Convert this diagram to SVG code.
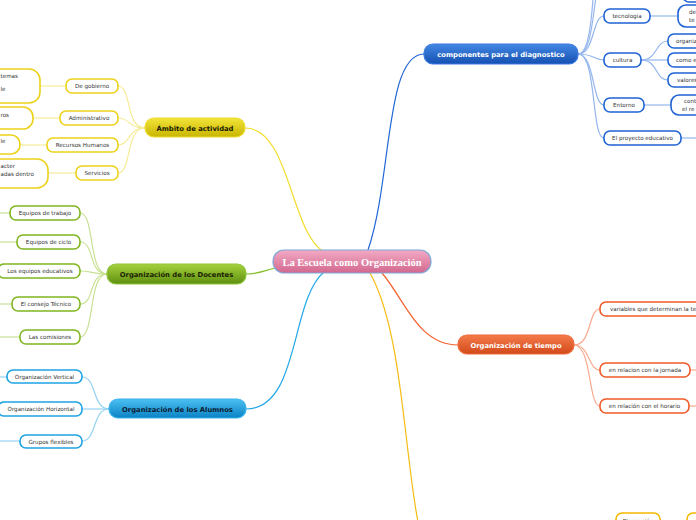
<svg xmlns="http://www.w3.org/2000/svg" width="696" height="520" viewBox="0 0 696 520">
<defs>
<linearGradient id="gPink" x1="0" y1="0" x2="0" y2="1"><stop offset="0" stop-color="#f3aac4"/><stop offset="1" stop-color="#d2688f"/></linearGradient>
<linearGradient id="gYel" x1="0" y1="0" x2="0" y2="1"><stop offset="0" stop-color="#f2e43a"/><stop offset="1" stop-color="#c9b500"/></linearGradient>
<linearGradient id="gGrn" x1="0" y1="0" x2="0" y2="1"><stop offset="0" stop-color="#a6d23e"/><stop offset="1" stop-color="#5e8f0f"/></linearGradient>
<linearGradient id="gCya" x1="0" y1="0" x2="0" y2="1"><stop offset="0" stop-color="#4cc0f2"/><stop offset="1" stop-color="#0a82c4"/></linearGradient>
<linearGradient id="gBlu" x1="0" y1="0" x2="0" y2="1"><stop offset="0" stop-color="#4388e4"/><stop offset="1" stop-color="#1550b2"/></linearGradient>
<linearGradient id="gOra" x1="0" y1="0" x2="0" y2="1"><stop offset="0" stop-color="#f47a4a"/><stop offset="1" stop-color="#d24a1a"/></linearGradient>
</defs>
<style>
.c{fill:none;stroke-width:1.2}
.main{stroke-width:1.2}
.mt{font-family:"DejaVu Sans",sans-serif;font-size:6.8px;font-weight:bold;text-anchor:middle}
.st{font-family:"DejaVu Sans",sans-serif;font-size:5.6px;fill:#333;text-anchor:middle}
.sl{font-family:"DejaVu Sans",sans-serif;font-size:5.6px;fill:#333}
.sub{fill:#fff;stroke-width:1.6}
.y{stroke:#ecd21a}.yl{stroke:#f6ec98}
.g{stroke:#7fb520}.gl{stroke:#c8e294}
.cy{stroke:#1ea2e4}.cyl{stroke:#94d2f2}
.b{stroke:#1f63d4}.bl{stroke:#94b6ec}
.o{stroke:#f05a28}.ol{stroke:#f8aa8e}
.yo{stroke:#f5b800}
</style>

<g id="connectors">
<path class="c" stroke="#f2dc2a" stroke-width="1.6" d="M245,128 C290,128 290,232 324,252"/>
<path class="c" stroke="#86c02a" stroke-width="1.6" d="M246,274 C260,274 265,270 276,268"/>
<path class="c" stroke="#22a8e6" stroke-width="1.6" d="M324,272 C290,300 300,409 246,409"/>
<path class="c" stroke="#2066d6" stroke-width="1.6" d="M368,250 C392,180 385,54 424,54"/>
<path class="c" stroke="#f2602c" stroke-width="1.6" d="M382,273 C405,300 418,345 458,345"/>
<path class="c" stroke="#f6bc10" stroke-width="1.6" d="M370,273 C402,330 404,450 418,522"/>
<path class="c yl" d="M145,128 C125,128 132,86 118,86"/>
<path class="c yl" d="M145,128 C128,128 130,118 118,118"/>
<path class="c yl" d="M145,128 C128,128 130,145 118,145"/>
<path class="c yl" d="M145,128 C125,128 132,173 118,173"/>
<path class="c yl" d="M66,86 L40,86"/>
<path class="c yl" d="M60,118 L33,118"/>
<path class="c yl" d="M47,145 L20,145"/>
<path class="c yl" d="M76,173 L48,173"/>
<path class="c gl" d="M107,274 C88,274 95,213 80,213"/>
<path class="c gl" d="M107,274 C88,274 95,242 80,242"/>
<path class="c gl" d="M107,274 C92,274 92,271 80,271"/>
<path class="c gl" d="M107,274 C88,274 95,304 80,304"/>
<path class="c gl" d="M107,274 C88,274 95,337 80,337"/>
<path class="c gl" d="M10,213 L0,213"/>
<path class="c gl" d="M17,242 L0,242"/>
<path class="c gl" d="M12,304 L0,304"/>
<path class="c gl" d="M20,337 L0,337"/>
<path class="c cyl" d="M109,409 C92,409 97,377 82,377"/>
<path class="c cyl" d="M109,409 L82,409"/>
<path class="c cyl" d="M109,409 C92,409 97,441 82,441"/>
<path class="c cyl" d="M7,377 L0,377"/>
<path class="c cyl" d="M20,441 L0,441"/>
<path class="c bl" d="M578,54 C598,54 590,-60 604,-60"/>
<path class="c bl" d="M578,54 C597,54 591,-20 604,-20"/>
<path class="c bl" d="M578,54 C595,54 592,16 604,16"/>
<path class="c bl" d="M578,54 C594,54 594,60 604,60"/>
<path class="c bl" d="M578,54 C595,54 592,105 604,105"/>
<path class="c bl" d="M578,54 C597,54 591,138 604,138"/>
<path class="c bl" d="M650,16 L678,16"/>
<path class="c bl" d="M641,60 C658,60 655,41 668,41"/>
<path class="c bl" d="M641,60 L668,60"/>
<path class="c bl" d="M641,60 C658,60 655,80 668,80"/>
<path class="c bl" d="M644,105 L671,105"/>
<path class="c bl" d="M681,138 L696,138"/>
<path class="c ol" d="M574,345 C592,345 588,309 600,309"/>
<path class="c ol" d="M574,345 C590,345 588,370 600,370"/>
<path class="c ol" d="M574,345 C592,345 588,406 600,406"/>
<path class="c ol" d="M690,370 L696,370"/>
<path class="c ol" d="M689,406 L696,406"/>
</g>

<g id="center">
<rect x="273" y="250" width="158" height="23" rx="11" fill="url(#gPink)" stroke="#7fa8d8" stroke-width="1.2"/>
<text x="352" y="265.5" font-family="'Liberation Serif',serif" font-size="10.5" font-weight="bold" fill="#fff" text-anchor="middle">La Escuela como Organización</text>
</g>

<g id="ambito">
<rect x="145" y="118" width="100" height="19" rx="9" fill="url(#gYel)" stroke="#eedc30" class="main"/>
<text class="mt" x="195" y="130.5" fill="#1a1a00">Ámbito de actividad</text>
</g>
<g id="degobierno"><rect class="sub y" x="66" y="79" width="52" height="14" rx="6"/><text class="st" x="92" y="88">De gobierno</text></g>
<g id="administrativo"><rect class="sub y" x="60" y="111" width="58" height="14" rx="6"/><text class="st" x="89" y="120">Administrativo</text></g>
<g id="recursos"><rect class="sub y" x="47" y="138" width="71" height="14" rx="6"/><text class="st" x="82.5" y="147">Recursos Humanos</text></g>
<g id="servicios"><rect class="sub y" x="76" y="166" width="42" height="14" rx="6"/><text class="st" x="97" y="175">Servicios</text></g>
<g id="y1"><rect class="sub y" x="-60" y="69" width="100" height="34" rx="11"/><text class="sl" x="0.5" y="78">temas</text><text class="sl" x="0.5" y="91">le</text></g>
<g id="y2"><rect class="sub y" x="-60" y="107" width="93" height="22" rx="10"/><text class="sl" x="0.5" y="117">ros</text></g>
<g id="y3"><rect class="sub y" x="-60" y="135" width="80" height="19" rx="9"/><text class="sl" x="0.5" y="143">le</text></g>
<g id="y4"><rect class="sub y" x="-60" y="159" width="108" height="29" rx="11"/><text class="sl" x="0.5" y="168">acter</text><text class="sl" x="0.5" y="176">adas dentro</text></g>

<g id="docentes">
<rect x="107" y="264" width="139" height="20" rx="9" fill="url(#gGrn)" stroke="#8cc43a" class="main"/>
<text class="mt" x="176.5" y="277" fill="#1a2200">Organización de los Docentes</text>
</g>
<g id="trabajo"><rect class="sub g" x="10" y="206" width="70" height="14" rx="6"/><text class="st" x="45" y="215">Equipos de trabajo</text></g>
<g id="ciclo"><rect class="sub g" x="17" y="235" width="63" height="14" rx="6"/><text class="st" x="48.5" y="244">Equipos de ciclo</text></g>
<g id="educativos"><rect class="sub g" x="-2" y="264" width="82" height="14" rx="6"/><text class="st" x="40" y="273">Los equipos educativos</text></g>
<g id="consejo"><rect class="sub g" x="12" y="297" width="68" height="14" rx="6"/><text class="st" x="46" y="306">El consejo Técnico</text></g>
<g id="comisiones"><rect class="sub g" x="20" y="330" width="60" height="14" rx="6"/><text class="st" x="50" y="339">Las comisiones</text></g>

<g id="alumnos">
<rect x="109" y="399" width="137" height="19" rx="9" fill="url(#gCya)" stroke="#38b4ee" class="main"/>
<text class="mt" x="177.5" y="411.5" fill="#0a1a30">Organización de los Alumnos</text>
</g>
<g id="vertical"><rect class="sub cy" x="7" y="370" width="75" height="13" rx="6"/><text class="st" x="44.5" y="378.5">Organización Vertical</text></g>
<g id="horizontal"><rect class="sub cy" x="-2" y="402" width="84" height="14" rx="6"/><text class="st" x="41" y="411">Organización Horizontal</text></g>
<g id="flexibles"><rect class="sub cy" x="20" y="435" width="62" height="13" rx="6"/><text class="st" x="51" y="443.5">Grupos flexibles</text></g>

<g id="componentes">
<rect x="424" y="44" width="154" height="20" rx="9" fill="url(#gBlu)" stroke="#3a7ae0" class="main"/>
<text class="mt" x="501" y="57" fill="#fff">componentes para el diagnostico</text>
</g>
<g id="btop"><rect class="sub b" x="683" y="-20" width="40" height="22" rx="6"/></g>
<g id="tecnologia"><rect class="sub b" x="604" y="9" width="46" height="14" rx="6"/><text class="st" x="627" y="18">tecnologia</text></g>
<g id="tec1"><rect class="sub b" x="678" y="5" width="40" height="22" rx="8"/><text class="sl" x="689" y="14">de</text><text class="sl" x="689" y="22">te</text></g>
<g id="cultura"><rect class="sub b" x="604" y="53" width="37" height="14" rx="6"/><text class="st" x="622.5" y="62">cultura</text></g>
<g id="cul1"><rect class="sub b" x="668" y="34" width="40" height="14" rx="6"/><text class="sl" x="676" y="43">organiz</text></g>
<g id="cul2"><rect class="sub b" x="668" y="53" width="40" height="14" rx="6"/><text class="sl" x="676" y="62">como e</text></g>
<g id="cul3"><rect class="sub b" x="668" y="73" width="40" height="14" rx="6"/><text class="sl" x="677" y="82">valores</text></g>
<g id="entorno"><rect class="sub b" x="604" y="98" width="40" height="14" rx="6"/><text class="st" x="624" y="107">Entorno</text></g>
<g id="ent1"><rect class="sub b" x="671" y="95" width="40" height="20" rx="8"/><text class="sl" x="684" y="103">cont</text><text class="sl" x="682" y="111">el re</text></g>
<g id="proyecto"><rect class="sub b" x="604" y="131" width="77" height="14" rx="6"/><text class="st" x="642.5" y="140">El proyecto educativo</text></g>

<g id="tiempo">
<rect x="458" y="335" width="116" height="19" rx="9" fill="url(#gOra)" stroke="#f06a3a" class="main"/>
<text class="mt" x="516" y="347.5" fill="#fff">Organización de tiempo</text>
</g>
<g id="variables"><rect class="sub o" x="600" y="302" width="110" height="14" rx="6"/><text class="sl" x="610" y="311">variables que determinan la te</text></g>
<g id="jornada"><rect class="sub o" x="600" y="363" width="90" height="14" rx="6"/><text class="st" x="645" y="372">en relacion con la jornada</text></g>
<g id="horario"><rect class="sub o" x="600" y="399" width="89" height="14" rx="6"/><text class="st" x="644.5" y="408">en relación con el horario</text></g>

<g id="planeacion"><rect class="sub yo" x="616" y="513" width="44" height="20" rx="6"/><text class="st" x="638" y="523">Planeación</text></g>
<g id="bottom2"><rect class="sub yo" x="687" y="513" width="40" height="20" rx="6"/></g>
</svg>
